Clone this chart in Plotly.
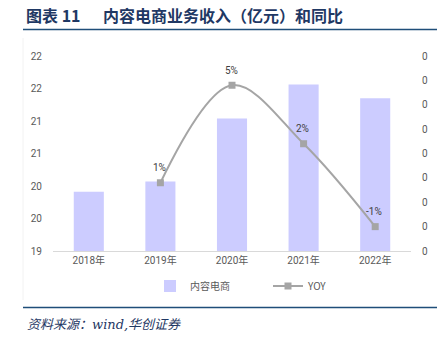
import plotly.graph_objects as go

years = ["2018年", "2019年", "2020年", "2021年", "2022年"]
revenue = [19.91, 20.07, 21.04, 21.56, 21.35]
yoy = [None, 0.008, 0.048, 0.024, -0.010]
yoy_text = ["", "1%", "5%", "2%", "-1%"]
left_ticks = [19, 19.5, 20, 20.5, 21, 21.5, 22]
left_tick_labels = ["19", "20", "20", "21", "21", "22", "22"]
right_ticks = [-0.02, -0.01, 0, 0.01, 0.02, 0.03, 0.04, 0.05, 0.06]
right_tick_labels = ["0"] * 9

W, H = 445, 340
L, R, T, B = 53, 34, 56, 89
pw, ph = W - L - R, H - T - B

def px(x):
    return (x - L) / pw

def py(y):
    return (H - B - y) / ph

tick_font = dict(family="Roboto, Noto Sans CJK SC", size=10, color="#595959")

fig = go.Figure()
fig.add_trace(go.Bar(
    x=years, y=revenue, name="内容电商", marker=dict(color="#CCCCFF", line=dict(width=0)),
    width=0.42, yaxis="y"))
fig.add_trace(go.Scatter(
    x=years, y=yoy, name="YOY", yaxis="y2", mode="lines+markers",
    line=dict(color="#A5A5A5", width=2, shape="spline", smoothing=1.0),
    marker=dict(symbol="square", size=7, color="#A5A5A5"),
    cliponaxis=False))

for xv, yv, tv in zip(years, yoy, yoy_text):
    if yv is None:
        continue
    fig.add_annotation(x=xv, y=yv, xref="x", yref="y2", text=tv, showarrow=False,
                       yshift=15, xshift=-1,
                       font=dict(family="Roboto, Noto Sans CJK SC", size=10, color="#404040"))

fig.update_layout(
    width=W, height=H, margin=dict(l=L, r=R, t=T, b=B),
    paper_bgcolor="white", plot_bgcolor="white",
    xaxis=dict(showgrid=False, showline=True, linecolor="#D9D9D9", linewidth=1,
               ticks="", tickfont=tick_font),
    yaxis=dict(range=[19, 22], tickvals=left_ticks, ticktext=left_tick_labels,
               showgrid=False, zeroline=False, showline=False, tickfont=tick_font,
               ticks="outside", ticklen=8, tickcolor="rgba(0,0,0,0)"),
    yaxis2=dict(range=[-0.02, 0.06], tickvals=right_ticks, ticktext=right_tick_labels,
                overlaying="y", side="right", showgrid=False, zeroline=False,
                showline=False, tickfont=tick_font,
                ticks="outside", ticklen=8, tickcolor="rgba(0,0,0,0)"),
    legend=dict(orientation="h", x=px(268), xanchor="center", y=py(286), yanchor="middle",
                font=dict(family="Noto Sans CJK SC, Roboto", size=10, color="#595959"),
                itemwidth=30, entrywidth=73, traceorder="normal"),
    showlegend=True,
)

# Title
fig.add_annotation(xref="paper", yref="paper", x=px(24), y=py(15), xanchor="left", yanchor="middle",
                   text="<b>图表 11</b>", showarrow=False,
                   font=dict(family="Noto Sans CJK SC", size=16, color="#1F3864"))
fig.add_annotation(xref="paper", yref="paper", x=px(101), y=py(15), xanchor="left", yanchor="middle",
                   text="<b>内容电商业务收入（亿元）和同比</b>", showarrow=False,
                   font=dict(family="Noto Sans CJK SC", size=16, color="#1F3864"))
fig.add_shape(type="line", xref="paper", yref="paper", x0=px(23), x1=px(437), y0=py(29.5), y1=py(29.5),
              line=dict(color="#1F4E79", width=1.5))
# Footer
fig.add_shape(type="line", xref="paper", yref="paper", x0=px(23), x1=px(437), y0=py(307.5), y1=py(307.5),
              line=dict(color="#1F4E79", width=1.5))
fig.add_annotation(xref="paper", yref="paper", x=px(25), y=py(324), xanchor="left", yanchor="middle",
                   text="<i>资料来源：wind,华创证券</i>", showarrow=False,
                   font=dict(family="DejaVu Serif, Noto Sans CJK SC", size=13, color="#1F3864"))
# faint chart frame line on the left
fig.add_shape(type="line", xref="paper", yref="paper", x0=px(23), x1=px(23), y0=py(38), y1=py(300),
              line=dict(color="#F2F2F2", width=1))

fig.write_html("out.html")
